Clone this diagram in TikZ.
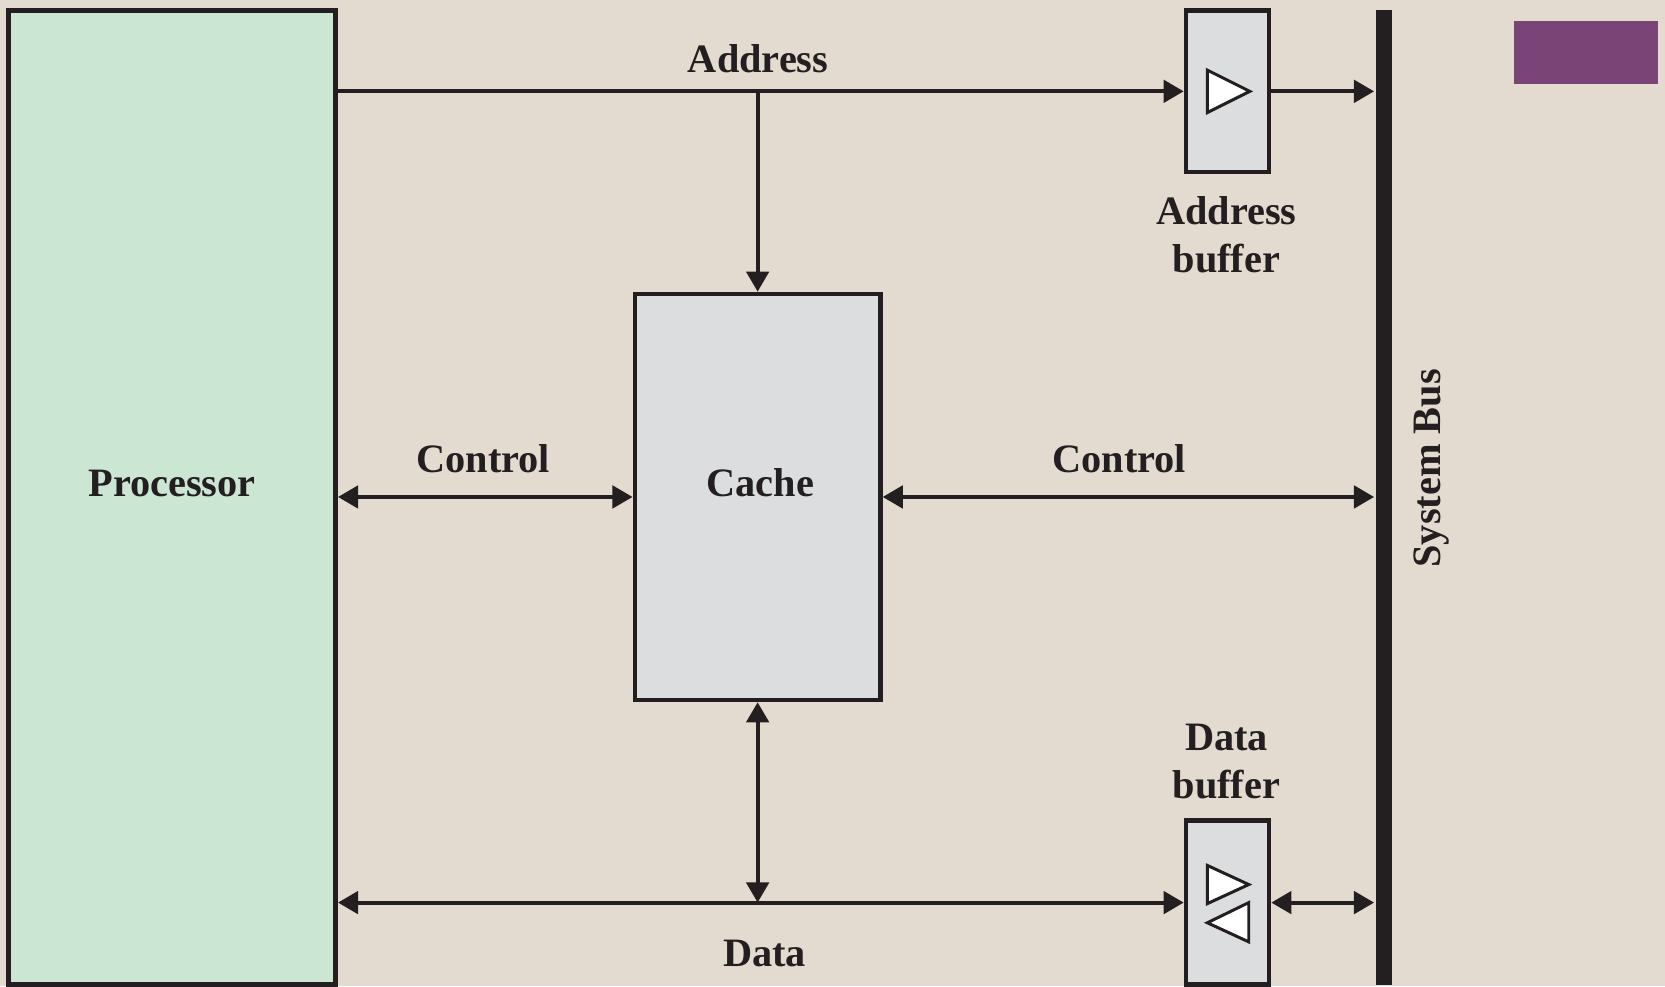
\documentclass[tikz,border=0pt]{standalone}
\usepackage{fontspec}
\setmainfont{Liberation Serif}
\usetikzlibrary{arrows.meta}
\usetikzlibrary{calc}
\definecolor{paper}{HTML}{E3DBCF}
\definecolor{procgreen}{HTML}{CCE6D4}
\definecolor{boxgray}{HTML}{DCDDDF}
\definecolor{ink}{HTML}{231F20}
\definecolor{plum}{HTML}{7A4476}
\tikzstyle{every node}=[font=\fontsize{10.8}{12.8}\selectfont\bfseries,text=ink]
\tikzstyle{every path}=[line width=1.1pt,line join=miter]
\tikzstyle{unit}=[draw=ink,line width=1.25pt,inner sep=0pt]
\tikzstyle{gate}=[draw=ink,fill=white,line width=0.8pt,line join=miter]

\begin{document}
\begin{tikzpicture}[x=0.01cm,y=-0.01cm,>={Triangle[length=0.19cm,width=0.21cm]}]
    % Background and corner mark
    \fill[paper] (0,0) rectangle (1568,929);
    \useasboundingbox (0,0) rectangle (1568,929);
    \fill[plum] (1426,20) rectangle (1561,79);

    % Blocks
    \node [unit,fill=procgreen,minimum width=3.08cm,minimum height=9.17cm,name=proc] at (162,468.5) {};
    \node [unit,fill=boxgray,minimum width=2.31cm,minimum height=3.82cm,name=cache] at (713.5,468) {};
    \node [unit,fill=boxgray,minimum width=0.78cm,minimum height=1.52cm,name=abuf] at (1156,86) {};
    \node [unit,fill=boxgray,minimum width=0.78cm,minimum height=1.54cm,name=dbuf] at (1156,850) {};
    \node [fill=ink,inner sep=0pt,minimum width=0.15cm,minimum height=9.17cm,name=bus] at (1303.5,468.5) {};

    % Block texts
    \node (proctext) at (162,455) {Processor};
    \node (cachetext) at (716,455) {Cache};
    \node[rotate=90] (bustext) at (1348,441) {System Bus};
    \node[align=center] (abuftext) at (1155,221) {Address\\buffer};
    \node[align=center] (dbuftext) at (1155,717) {Data\\buffer};

    % Buffer symbols
    \draw[gate] ($(abuf.center)+(-19,-20)$) -- ++(40,20) -- ++(-40,20) -- cycle;
    \draw[gate] ($(dbuf.center)+(-19,-35)$) -- ++(39,18) -- ++(-39,18) -- cycle;
    \draw[gate] ($(dbuf.center)+(20,0)$) -- ++(0,37) -- ++(-39,-18) -- cycle;

    % Address lines
    \draw[->,ink] (proc.east |- abuf.west) -- (abuf.west);
    \draw[->,ink] (abuf.east) -- (abuf.east -| bus.west);
    \draw[->,ink] (cache.north |- abuf.west) -- (cache.north);
    \node (addrlbl) at (714,55) {Address};

    % Control lines
    \draw[<->,ink] (proc.east |- cache.west) -- (cache.west);
    \draw[<->,ink] (cache.east) -- (cache.east -| bus.west);
    \node (ctrllbl1) at (455,432) {Control};
    \node (ctrllbl2) at (1054,432) {Control};

    % Data lines
    \draw[<->,ink] (proc.east |- dbuf.west) -- (dbuf.west);
    \draw[<->,ink] (cache.south) -- (cache.south |- dbuf.west);
    \draw[<->,ink] (dbuf.east) -- (dbuf.east -| bus.west);
    \node (datalbl) at (720,898) {Data};

\end{tikzpicture}
\end{document}
